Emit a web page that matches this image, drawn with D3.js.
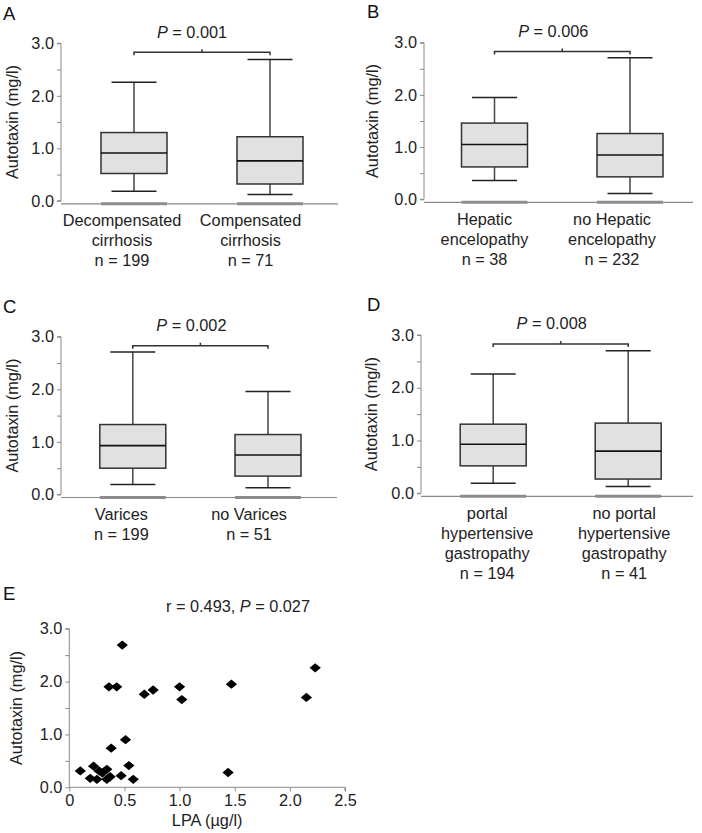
<!DOCTYPE html>
<html><head><meta charset="utf-8">
<script src="https://cdn.jsdelivr.net/npm/d3@7"></script>
<style>
html,body{margin:0;padding:0;background:#fff;}
svg{display:block;font-family:"Liberation Sans",Arial,sans-serif;}
</style></head>
<body>
<svg id="chart" width="702" height="833"></svg>
<script>
// ---------- DATA ----------
const panelLetters = ["A","B","C","D"];
const pValues = ["0.001","0.006","0.002","0.008"];
const catLabelsA = [["Decompensated","cirrhosis","n = 199"],["Compensated","cirrhosis","n = 71"]];
const catLabelsB = [["Hepatic","encelopathy","n = 38"],["no Hepatic","encelopathy","n = 232"]];
const catLabelsC = [["Varices","n = 199"],["no Varices","n = 51"]];
const catLabelsD = [["portal","hypertensive","gastropathy","n = 194"],["no portal","hypertensive","gastropathy","n = 41"]];
// box stats [lowerWhisker, Q1, median, Q3, upperWhisker]
const boxesA = [[0.18,0.52,0.91,1.30,2.26],[0.12,0.32,0.76,1.22,2.69]];
const boxesB = [[0.36,0.62,1.05,1.46,1.95],[0.11,0.43,0.85,1.26,2.71]];
const boxesC = [[0.19,0.50,0.93,1.33,2.71],[0.13,0.35,0.75,1.14,1.96]];
const boxesD = [[0.19,0.52,0.93,1.31,2.26],[0.13,0.27,0.80,1.33,2.70]];
const bracketLevel = 2.83;
const yTicks = [0,0.5,1.0,1.5,2.0,2.5,3.0];
const xTicksE = [0,0.5,1.0,1.5,2.0,2.5];
const lpa = [0.10,0.19,0.22,0.25,0.27,0.30,0.34,0.34,0.37,0.47,0.54,0.58,0.38,0.51,0.48,0.36,0.43,0.68,0.76,1.00,1.02,1.47,1.44,2.15,2.23];
const atx = [0.31,0.17,0.40,0.15,0.31,0.27,0.34,0.15,0.20,0.22,0.41,0.15,0.74,0.90,2.69,1.90,1.90,1.76,1.84,1.90,1.66,1.95,0.28,1.70,2.26];
const yLabel = "Autotaxin (mg/l)";
const xLabelE = "LPA (\u00b5g/l)";
const statE = {r:"0.493", p:"0.027"};

// ---------- LAYOUT ----------
const panels = [
  {letter:panelLetters[0], p:pValues[0], boxes:boxesA, labels:catLabelsA, ax:61, y3:43.3, y0:200.8, c1:134, c2:270, axEnd:338, lx:3, ly:20, labelShift:[-12,-19.5], ylx:18, pShift:-10},
  {letter:panelLetters[1], p:pValues[1], boxes:boxesB, labels:catLabelsB, ax:424, y3:42.7, y0:199.3, c1:494.5, c2:630, axEnd:693, lx:367, ly:18, labelShift:[-10,-18], ylx:378, pShift:-9},
  {letter:panelLetters[2], p:pValues[2], boxes:boxesC, labels:catLabelsC, ax:61, y3:336.7, y0:494.5, c1:132.8, c2:268, axEnd:337, lx:3, ly:313, labelShift:[-11.5,-19], ylx:18, pShift:-9},
  {letter:panelLetters[3], p:pValues[3], boxes:boxesD, labels:catLabelsD, ax:421, y3:335, y0:493.3, c1:493.2, c2:628.2, axEnd:693, lx:367, ly:311, labelShift:[-6,-4], ylx:377, pShift:-9}
];

const svg = d3.select("#chart");
const FS = 16.3;
const axisGray = "#8a8a8a";
const boxW = 66, capW = 45;

panels.forEach(P => {
  const g = svg.append("g");
  const y = d3.scaleLinear().domain([0,3]).range([P.y0, P.y3]);
  const x = d3.scalePoint().domain([0,1]).range([P.c1, P.c2]);

  g.append("text").attr("x",P.lx).attr("y",P.ly).attr("font-size",18.5).attr("fill","#111").text(P.letter);

  const yAx = d3.axisLeft(y).tickValues(yTicks).tickSize(4).tickPadding(3)
     .tickFormat(d => Number.isInteger(d) ? d3.format(".1f")(d) : "");
  const ya = g.append("g").attr("transform",`translate(${P.ax},0)`).call(yAx);
  ya.select(".domain").attr("stroke",axisGray).attr("d",`M-4,${P.y3}H0V${P.y0}H-4`);
  ya.selectAll(".tick line").attr("stroke",axisGray);
  ya.selectAll("text").attr("font-size",FS).attr("fill","#222").attr("font-family",null);

  g.append("text").attr("transform",`translate(${P.ylx},${(P.y0+P.y3)/2}) rotate(-90)`)
    .attr("text-anchor","middle").attr("font-size",FS).attr("fill","#222").text(yLabel);

  const xaY = P.y0 + 3;
  g.append("line").attr("x1",P.ax).attr("x2",P.axEnd).attr("y1",xaY).attr("y2",xaY)
    .attr("stroke",axisGray).attr("stroke-width",1.2);

  P.boxes.forEach((b,i) => {
    const cx = x(i);
    g.append("line").attr("x1",cx-boxW/2).attr("x2",cx+boxW/2).attr("y1",xaY).attr("y2",xaY)
      .attr("stroke","#8c8c8c").attr("stroke-width",3);
    g.append("line").attr("x1",cx).attr("x2",cx).attr("y1",y(b[3])).attr("y2",y(b[4])).attr("stroke","#444").attr("stroke-width",1.5);
    g.append("line").attr("x1",cx).attr("x2",cx).attr("y1",y(b[0])).attr("y2",y(b[1])).attr("stroke","#444").attr("stroke-width",1.5);
    g.append("line").attr("x1",cx-capW/2).attr("x2",cx+capW/2).attr("y1",y(b[4])).attr("y2",y(b[4])).attr("stroke","#222").attr("stroke-width",1.5);
    g.append("line").attr("x1",cx-capW/2).attr("x2",cx+capW/2).attr("y1",y(b[0])).attr("y2",y(b[0])).attr("stroke","#222").attr("stroke-width",1.5);
    g.append("rect").attr("x",cx-boxW/2).attr("y",y(b[3])).attr("width",boxW).attr("height",y(b[1])-y(b[3]))
      .attr("fill","#e1e1e1").attr("stroke","#333").attr("stroke-width",1.5);
    g.append("line").attr("x1",cx-boxW/2).attr("x2",cx+boxW/2).attr("y1",y(b[2])).attr("y2",y(b[2])).attr("stroke","#111").attr("stroke-width",1.6);

    const lbl = g.append("text").attr("text-anchor","middle").attr("font-size",FS).attr("fill","#222");
    P.labels[i].forEach((t,k) => {
      lbl.append("tspan").attr("x",cx+P.labelShift[i]).attr("y",xaY+22.5+k*20).text(t);
    });
  });

  const by = y(bracketLevel), bx1 = x(0), bx2 = x(1), bm = (bx1+bx2)/2;
  g.append("path").attr("d",`M${bx1},${by+3}V${by}H${bx2}V${by+3}M${bm},${by}V${by-3}`)
    .attr("fill","none").attr("stroke","#333").attr("stroke-width",1.5);
  const pt = g.append("text").attr("x",bm+P.pShift).attr("y",by-14.5).attr("text-anchor","middle")
    .attr("font-size",FS).attr("fill","#222");
  pt.append("tspan").attr("font-style","italic").text("P");
  pt.append("tspan").text(" = " + P.p);
});

// ---------- PANEL E (scatter) ----------
{
  const g = svg.append("g");
  const x = d3.scaleLinear().domain([0,2.5]).range([69.3,345]);
  const y = d3.scaleLinear().domain([0,3]).range([787.3,628.7]);
  g.append("text").attr("x",3).attr("y",600).attr("font-size",18.5).attr("fill","#111").text("E");

  const ya = g.append("g").attr("transform",`translate(${x(0)},0)`)
    .call(d3.axisLeft(y).tickValues(yTicks).tickSize(4).tickPadding(3)
      .tickFormat(d => Number.isInteger(d) ? d3.format(".1f")(d) : ""));
  ya.select(".domain").attr("stroke",axisGray).attr("d",`M-4,${y(3)}H0V${y(0)}`);
  ya.selectAll(".tick line").attr("stroke",axisGray);
  ya.selectAll("text").attr("font-size",FS).attr("fill","#222").attr("font-family",null);

  const xa = g.append("g").attr("transform",`translate(0,${y(0)})`)
    .call(d3.axisBottom(x).tickValues(xTicksE).tickSize(4).tickPadding(3)
      .tickFormat(d => d === 0 ? "0" : d3.format(".1f")(d)));
  xa.select(".domain").attr("stroke",axisGray).attr("d",`M${x(0)},0H${x(2.5)}V4`);
  xa.selectAll(".tick line").attr("stroke",axisGray);
  xa.selectAll("text").attr("font-size",FS).attr("fill","#222").attr("font-family",null);

  g.append("text").attr("transform",`translate(22,${(y(0)+y(3))/2}) rotate(-90)`)
    .attr("text-anchor","middle").attr("font-size",FS).attr("fill","#222").text(yLabel);
  g.append("text").attr("x",(x(0)+x(2.5))/2).attr("y",826).attr("text-anchor","middle")
    .attr("font-size",FS).attr("fill","#222").text(xLabelE);

  const st = g.append("text").attr("x",238).attr("y",612).attr("text-anchor","middle").attr("font-size",FS).attr("fill","#222");
  st.append("tspan").text("r = " + statE.r + ", ");
  st.append("tspan").attr("font-style","italic").text("P");
  st.append("tspan").text(" = " + statE.p);

  const sym = d3.symbol().type(d3.symbolSquare).size(48)();
  g.selectAll("path.pt").data(lpa.map((v,i)=>[v,atx[i]])).join("path")
    .attr("class","pt").attr("d",sym)
    .attr("transform",d=>`translate(${x(d[0])},${y(d[1])}) scale(1.15,0.95) rotate(45)`)
    .attr("fill","#000");
}
</script>
</body></html>
